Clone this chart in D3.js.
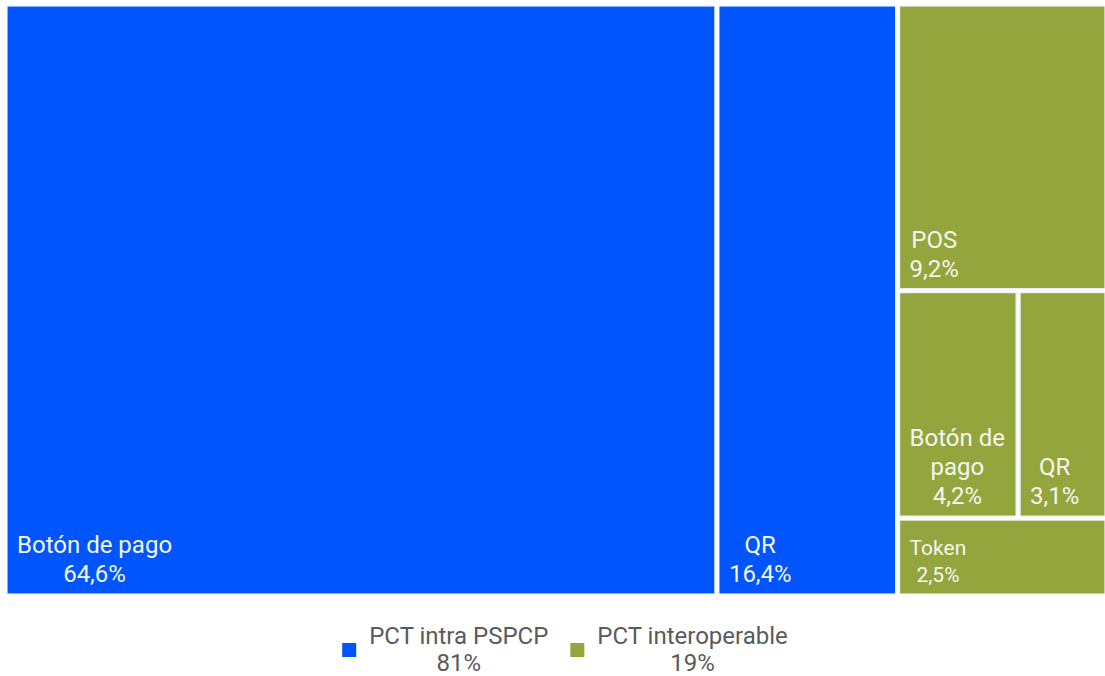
<!DOCTYPE html>
<html>
<head>
<meta charset="utf-8">
<script src="https://cdn.jsdelivr.net/npm/d3@7"></script>
<style>
  html, body { margin: 0; padding: 0; background: #fff; }
  svg { display: block; font-family: Roboto, "Noto Sans", sans-serif; }
</style>
</head>
<body>
<svg id="chart" width="1105" height="676"></svg>
<script>
// Groups (legend) and their shares
const groups = ["PCT intra PSPCP", "PCT interoperable"];
const groupShares = ["81%", "19%"];
const groupColors = ["#0055fe", "#94a53d"];

// Leaves: label, group, share (%)
const leafNames  = ["Botón de pago", "QR", "POS", "Botón de pago", "QR", "Token"];
const leafGroups = [0, 0, 1, 1, 1, 1];
const leafValues = [64.6, 16.4, 9.2, 4.2, 3.1, 2.5];

const fmt = v => v.toFixed(1).replace(".", ",") + "%";

const svg = d3.select("#chart");

const data = {
  name: "root",
  children: groups.map((g, gi) => ({
    name: g,
    gi,
    children: leafNames
      .map((n, i) => ({ name: n, gi: leafGroups[i], value: leafValues[i] }))
      .filter(d => d.gi === gi)
  }))
};

const root = d3.hierarchy(data)
  .sum(d => d.value || 0)
  .sort((a, b) => b.value - a.value);

d3.treemap()
  .tile(d3.treemapSquarify)
  .size([1098, 588])
  .paddingInner(4)
  .round(false)(root);

const g = svg.append("g").attr("transform", "translate(7,6)");

const leaves = g.selectAll("g.leaf")
  .data(root.leaves())
  .join("g")
  .attr("class", "leaf");

leaves.append("rect")
  .attr("x", d => d.x0)
  .attr("y", d => d.y0)
  .attr("width", d => d.x1 - d.x0)
  .attr("height", d => d.y1 - d.y0)
  .attr("fill", d => groupColors[d.data.gi])
  .attr("stroke", "#eef2f8")
  .attr("stroke-width", 1.2);

function measure(t, size) {
  const tmp = svg.append("text").attr("font-size", size).text(t);
  const w = tmp.node().getComputedTextLength();
  tmp.remove();
  return w;
}

// Wrap a label into lines that fit the given width
function wrapLines(text, maxW, size) {
  const words = text.split(" ");
  const lines = [];
  let cur = "";
  for (const w of words) {
    const trial = cur ? cur + " " + w : w;
    if (measure(trial, size) > maxW && cur) {
      lines.push(cur);
      cur = w;
    } else cur = trial;
  }
  if (cur) lines.push(cur);
  return lines;
}

leaves.each(function(d) {
  const cellW = d.x1 - d.x0;
  const small = cellW > 150 && (d.y1 - d.y0) < 90;
  const size = small ? 21 : 24;
  const lh = small ? 27 : 29;
  const lines = wrapLines(d.data.name, cellW - 14, size).concat([fmt(d.data.value)]);
  const blockW = d3.max(lines, l => measure(l, size));
  const cx = d.x0 + 10 + blockW / 2;
  const lastY = d.y1 - 12;
  const t = d3.select(this).append("text")
    .attr("font-size", size)
    .attr("fill", "#f4f6f0")
    .attr("text-anchor", "middle");
  lines.forEach((l, i) => {
    t.append("tspan")
      .attr("x", cx)
      .attr("y", lastY - (lines.length - 1 - i) * lh)
      .text(l);
  });
});

// Legend
const legendSize = 24;
const items = groups.map((name, i) => {
  const tw = Math.max(measure(name, legendSize), measure(groupShares[i], legendSize));
  return { name, share: groupShares[i], color: groupColors[i], tw };
});
const sq = 14, sqGap = 13, itemGap = 22;
const totalW = d3.sum(items, d => sq + sqGap + d.tw) + itemGap * (items.length - 1);
let lx = 565 - totalW / 2;
const legend = svg.append("g");
items.forEach(it => {
  legend.append("rect")
    .attr("x", lx).attr("y", 643)
    .attr("width", sq).attr("height", sq)
    .attr("fill", it.color);
  const tx = lx + sq + sqGap + it.tw / 2;
  const t = legend.append("text")
    .attr("font-size", legendSize)
    .attr("fill", "#5a5a5a")
    .attr("text-anchor", "middle");
  t.append("tspan").attr("x", tx).attr("y", 644).text(it.name);
  t.append("tspan").attr("x", tx).attr("y", 671).text(it.share);
  lx += sq + sqGap + it.tw + itemGap;
});
</script>
</body>
</html>
